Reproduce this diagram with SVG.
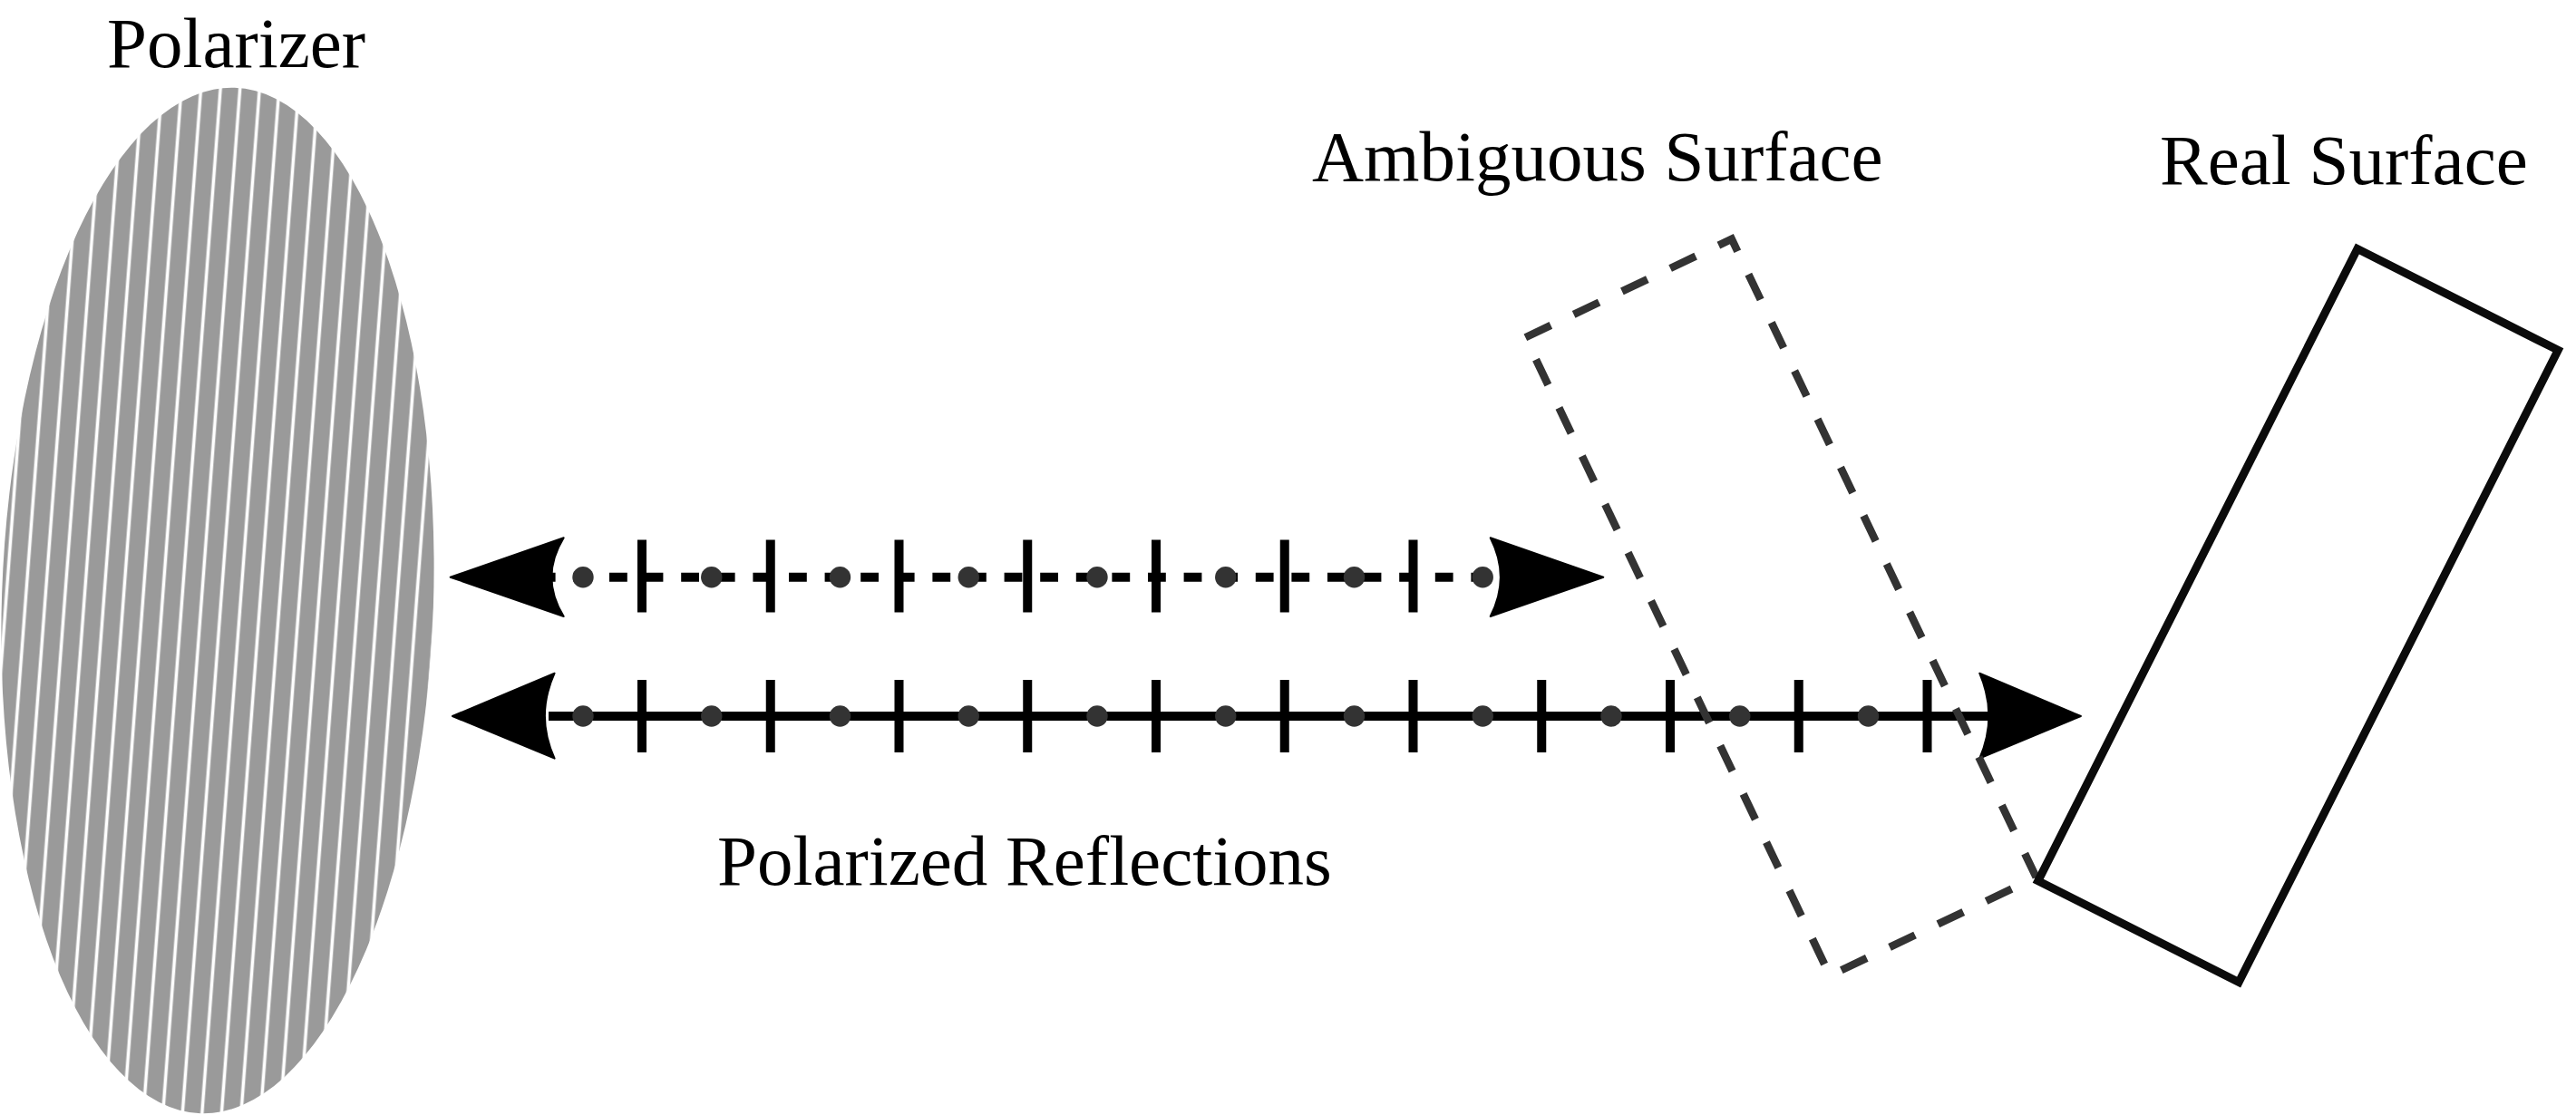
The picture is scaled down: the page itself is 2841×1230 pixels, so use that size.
<svg xmlns="http://www.w3.org/2000/svg" width="2841" height="1230" viewBox="0 0 2841 1230">
<style>
.lbl{font-family:"Liberation Serif","Times New Roman",serif;font-size:79px;fill:#000}
.tick{stroke:#000;stroke-width:10;fill:none}
.dot{fill:#333}
.head{fill:#000;stroke:#000;stroke-width:2;stroke-linejoin:round}
.ray{stroke:#000;stroke-width:10;fill:none}
.ray.dash{stroke-dasharray:19.8 19.8}
</style>
<defs>
<pattern id="stripes" patternUnits="userSpaceOnUse" width="21.5" height="40" patternTransform="rotate(2.4 240 662)">
<rect x="0" y="0" width="21.5" height="40" fill="#9a9a9a"/>
<rect x="5.5" y="0" width="3.6" height="40" fill="#ffffff"/>
</pattern>
</defs>
<rect width="2841" height="1230" fill="#fff"/>
<g id="polarizer">
<ellipse cx="240" cy="662.5" rx="238" ry="566" transform="rotate(1.9 240 662.5)" fill="url(#stripes)"/>
</g>
<g id="connectors">
<g id="ray-ambiguous">
<path class="ray dash" d="M592.8 636.7H1652"/>
<circle class="dot" cx="643" cy="636.7" r="11.7"/>
<circle class="dot" cx="784.75" cy="636.7" r="11.7"/>
<circle class="dot" cx="926.5" cy="636.7" r="11.7"/>
<circle class="dot" cx="1068.25" cy="636.7" r="11.7"/>
<circle class="dot" cx="1210" cy="636.7" r="11.7"/>
<circle class="dot" cx="1351.75" cy="636.7" r="11.7"/>
<circle class="dot" cx="1493.5" cy="636.7" r="11.7"/>
<circle class="dot" cx="1635.25" cy="636.7" r="11.7"/>
<path class="tick" d="M708 595.5v80M849.75 595.5v80M991.5 595.5v80M1133.25 595.5v80M1275 595.5v80M1416.75 595.5v80M1558.5 595.5v80"/>
<path class="head" d="M496.7 636.7L621.7 593.3Q595 636.7 621.7 680Z"/>
<path class="head" d="M1768.3 636.7L1643.7 593.3Q1666 636.7 1643.7 680Z"/>
</g>
<g id="ray-real">
<path class="ray" d="M605 790H2195"/>
<circle class="dot" cx="643" cy="790" r="11.7"/>
<circle class="dot" cx="784.75" cy="790" r="11.7"/>
<circle class="dot" cx="926.5" cy="790" r="11.7"/>
<circle class="dot" cx="1068.25" cy="790" r="11.7"/>
<circle class="dot" cx="1210" cy="790" r="11.7"/>
<circle class="dot" cx="1351.75" cy="790" r="11.7"/>
<circle class="dot" cx="1493.5" cy="790" r="11.7"/>
<circle class="dot" cx="1635.25" cy="790" r="11.7"/>
<circle class="dot" cx="1777" cy="790" r="11.7"/>
<circle class="dot" cx="1918.75" cy="790" r="11.7"/>
<circle class="dot" cx="2060.5" cy="790" r="11.7"/>
<path class="tick" d="M708 750v80M849.75 750v80M991.5 750v80M1133.25 750v80M1275 750v80M1416.75 750v80M1558.5 750v80M1700.25 750v80M1842 750v80M1983.75 750v80M2125.5 750v80"/>
<path class="head" d="M499 790L611.6 742.7Q590.2 790 611.6 836.7Z"/>
<path class="head" d="M2294.9 790L2183.2 742.7Q2203.6 790 2183.2 836.7Z"/>
</g>
</g>
<g id="ambiguous-surface">
<rect x="1838" y="280" width="252" height="780" transform="rotate(-25.5 1964 670)" fill="none" stroke="#333" stroke-width="8.5" stroke-dasharray="31 28"/>
</g>
<g id="real-surface">
<rect x="2410.5" y="288.5" width="248" height="781" transform="rotate(26.8 2534.5 679)" fill="none" stroke="#0b0b0b" stroke-width="9" stroke-linejoin="miter"/>
</g>
<g id="labels">
<text class="lbl" x="118" y="74">Polarizer</text>
<text class="lbl" x="1447" y="199">Ambiguous Surface</text>
<text class="lbl" x="2382" y="203">Real Surface</text>
<text class="lbl" x="791" y="976">Polarized Reflections</text>
</g>
</svg>
